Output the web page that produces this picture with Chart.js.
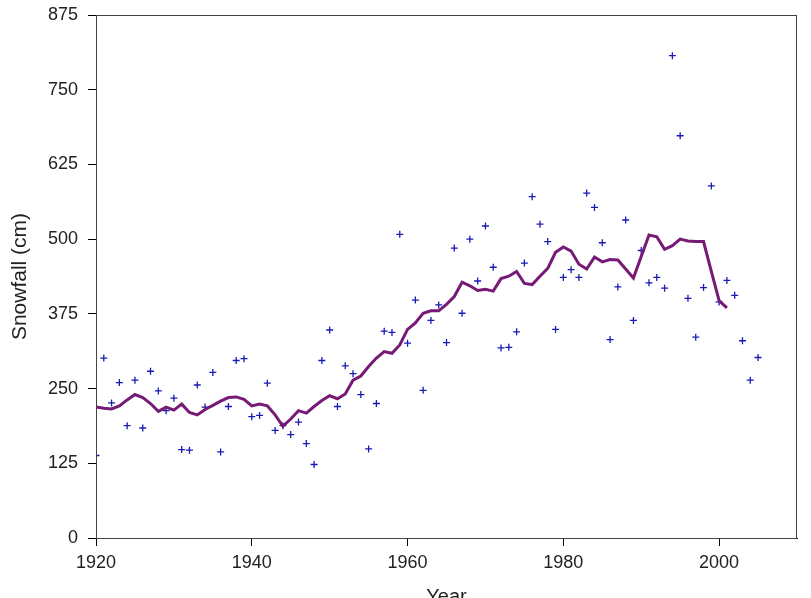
<!DOCTYPE html>
<html>
<head>
<meta charset="utf-8">
<script src="https://cdn.jsdelivr.net/npm/chart.js@4"></script>
<style>
  html, body { margin: 0; padding: 0; background: #fff; overflow: hidden; }
  #myChart { display: block; }
</style>
</head>
<body>
<canvas id="myChart" width="811" height="620"></canvas>
<script>
// yearly snowfall (crosses)
const snowYears = [1920,1921,1922,1923,1924,1925,1926,1927,1928,1929,
  1930,1931,1932,1933,1934,1935,1936,1937,1938,1939,
  1940,1941,1942,1943,1944,1945,1946,1947,1948,1949,
  1950,1951,1952,1953,1954,1955,1956,1957,1958,1959,
  1960,1961,1962,1963,1964,1965,1966,1967,1968,1969,
  1970,1971,1972,1973,1974,1975,1976,1977,1978,1979,
  1980,1981,1982,1983,1984,1985,1986,1987,1988,1989,
  1990,1991,1992,1993,1994,1995,1996,1997,1998,1999,
  2000,2001,2002,2003,2004,2005];
const snowfall = [138,301,226,260,188,264,184,279,246,213,
  234,148,147,256,219,277,144,220,297,300,
  203,205,259,180,188,173,194,158,123,297,
  348,220,288,275,240,149,225,346,344,508,
  326,398,247,364,390,327,485,376,500,430,
  522,453,318,319,345,460,571,525,496,349,
  436,449,436,577,553,494,332,420,532,364,
  481,427,436,418,807,673,401,336,419,589,
  395,431,406,330,264,302];

// running mean (purple line)
const avgYears = [1920,1921,1922,1923,1924,1925,1926,1927,1928,1929,
  1930,1931,1932,1933,1934,1935,1936,1937,1938,1939,
  1940,1941,1942,1943,1944,1945,1946,1947,1948,1949,
  1950,1951,1952,1953,1954,1955,1956,1957,1958,1959,
  1960,1961,1962,1963,1964,1965,1966,1967,1968,1969,
  1970,1971,1972,1973,1974,1975,1976,1977,1978,1979,
  1980,1981,1982,1983,1984,1985,1986,1987,1988,1989,
  1990,1991,1992,1993,1994,1995,1996,1997,1998,1999,
  2000,2001];
const avgSnowfall = [219,217,216,221,231,240,235,225,212,219,
  214,224,210,206,215,222,229,235,236,232,
  221,224,221,206,187,199,213,209,220,230,
  238,233,241,264,271,287,301,312,309,323,
  349,360,376,380,380,391,404,428,422,414,
  416,413,434,438,446,426,424,438,451,478,
  487,480,458,450,470,462,466,465,450,435,
  471,507,504,483,489,500,497,496,496,446,
  397,385];

const xTicks = [1920, 1940, 1960, 1980, 2000];
const yTicks = [0, 125, 250, 375, 500, 625, 750, 875];

const font = "'Liberation Sans', Arial, sans-serif";

// box round the plot area
const frame = {
  id: 'frame',
  afterDraw(chart) {
    const a = chart.chartArea;
    const ctx = chart.ctx;
    ctx.save();
    ctx.strokeStyle = '#444';
    ctx.lineWidth = 1;
    ctx.strokeRect(a.left + 0.5, a.top + 0.5, a.right - a.left - 1, a.bottom - a.top);
    ctx.restore();
  }
};

new Chart('myChart', {
  type: 'scatter',
  data: {
    datasets: [{
      label: 'Snowfall',
      data: snowYears.map((y, i) => ({x: y, y: snowfall[i]})),
      pointStyle: 'cross',
      pointRadius: 3.5,
      pointBorderWidth: 1.3,
      borderColor: '#1a1ab4',
      backgroundColor: '#1a1ab4',
      order: 2
    }, {
      type: 'line',
      label: 'Mean',
      data: avgYears.map((y, i) => ({x: y, y: avgSnowfall[i]})),
      borderColor: '#761a76',
      borderWidth: 3,
      pointRadius: 0,
      fill: false,
      tension: 0,
      order: 1
    }]
  },
  options: {
    responsive: false,
    animation: false,
    layout: { padding: { top: 15, right: 14, left: 0, bottom: 0 } },
    plugins: { legend: { display: false }, tooltip: { enabled: false } },
    scales: {
      x: {
        type: 'linear',
        min: 1920,
        max: 2010,
        afterBuildTicks: s => { s.ticks = xTicks.map(v => ({value: v})); },
        afterFit: s => { s.height = 82; s.paddingLeft = 0; s.paddingRight = 0; },
        grid: { drawOnChartArea: false, drawTicks: true, tickLength: 8, color: '#000' },
        border: { color: '#000', width: 1 },
        ticks: { color: '#222', padding: 6, maxRotation: 0, font: { family: font, size: 18 }, callback: v => String(v) },
        title: { display: true, text: 'Year', color: '#222', padding: { top: 0, bottom: 11 }, font: { family: font, size: 20 } }
      },
      y: {
        min: 0,
        max: 875,
        afterBuildTicks: s => { s.ticks = yTicks.map(v => ({value: v})); },
        afterFit: s => { s.width = 96; s.paddingTop = 0; s.paddingBottom = 0; },
        grid: { drawOnChartArea: false, drawTicks: true, tickLength: 8, color: '#000' },
        border: { color: '#000', width: 1 },
        ticks: { color: '#222', padding: 10, font: { family: font, size: 18 } },
        title: { display: true, text: 'Snowfall (cm)', color: '#222', padding: { top: 8, bottom: 0 }, font: { family: font, size: 21 } }
      }
    }
  },
  plugins: [frame]
});
</script>
</body>
</html>
